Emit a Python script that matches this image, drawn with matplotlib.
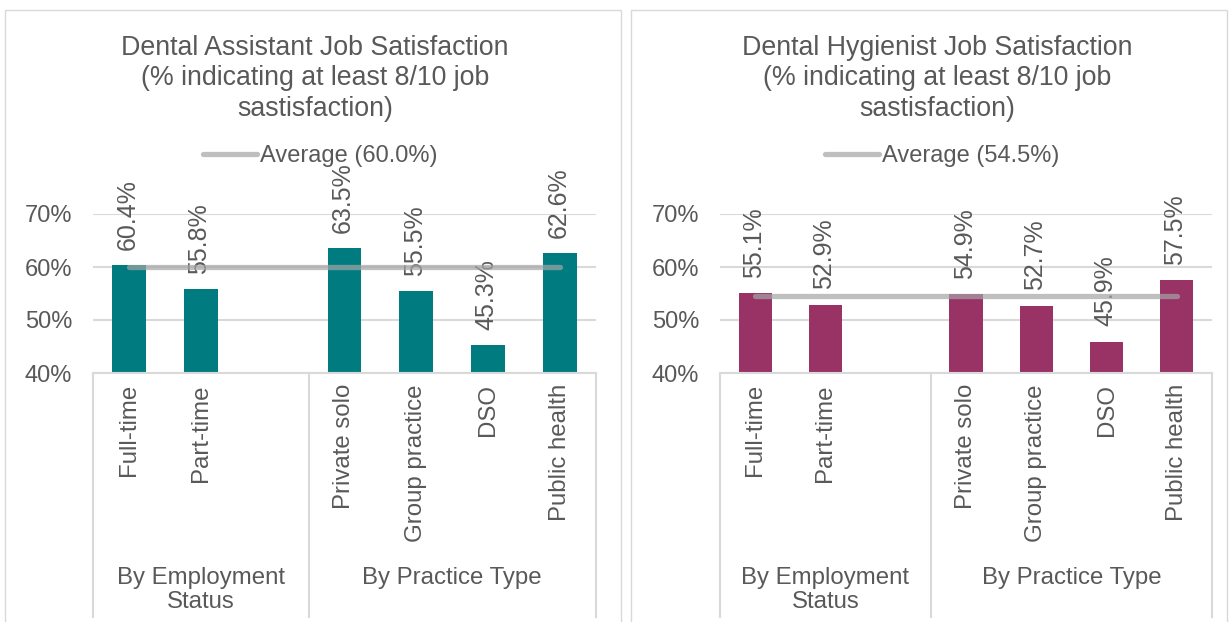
import numpy as np
import matplotlib
matplotlib.use("Agg")
from matplotlib import pyplot as plt
from matplotlib.patches import Rectangle

plt.rcParams['font.family'] = ['Liberation Sans', 'DejaVu Sans']

# data
employment = ["Full-time", "Part-time"]
practice = ["Private solo", "Group practice", "DSO", "Public health"]
group_names = ["By Employment\nStatus", "By Practice Type"]

assistant_vals = [60.4, 55.8, 63.5, 55.5, 45.3, 62.6]
assistant_avg = 60.0
hygienist_vals = [55.1, 52.9, 54.9, 52.7, 45.9, 57.5]
hygienist_avg = 54.5

titles = ["Dental Assistant Job Satisfaction\n(% indicating at least 8/10 job\nsastisfaction)",
          "Dental Hygienist Job Satisfaction\n(% indicating at least 8/10 job\nsastisfaction)"]
bar_colors = ["#007C80", "#993366"]

W, H = 1231, 622
fig = plt.figure(figsize=(W / 100, H / 100), dpi=100)

gray = "#595959"
grid = "#D9D9D9"

# bar positions: one empty slot between the two groups
pos = list(range(len(employment))) + [len(employment) + 1 + i for i in range(len(practice))]
labels = employment + practice
n_slots = len(employment) + 1 + len(practice)

panels = [
    # panel box (l, r), axes (l, r), title / legend centre
    dict(box=(5, 621), ax=(93, 596), tc=315, lc=320),
    dict(box=(631, 1227), ax=(720, 1212), tc=937, lc=942),
]
y_top, y_bot = 214, 373
series = [(assistant_vals, assistant_avg), (hygienist_vals, hygienist_avg)]

for k, p in enumerate(panels):
    vals, avg = series[k]
    bl, br = p["box"]
    fig.patches.append(Rectangle((bl / W, -0.05), (br - bl) / W, 1 - 10 / H + 0.05,
                                 transform=fig.transFigure, fill=False,
                                 edgecolor=grid, lw=1))
    al, ar = p["ax"]
    ax = fig.add_axes([al / W, 1 - y_bot / H, (ar - al) / W, (y_bot - y_top) / H])
    ax.set_xlim(-0.5, n_slots - 0.5)
    ax.set_ylim(40, 70)
    ax.set_yticks([40, 50, 60, 70])
    ax.set_yticklabels([f"{t}%" for t in [40, 50, 60, 70]])
    ax.yaxis.grid(True, color=grid, lw=1.5)
    ax.set_axisbelow(True)
    for s in ["left", "right", "top"]:
        ax.spines[s].set_visible(False)
    ax.spines["bottom"].set_color(grid)
    ax.spines["bottom"].set_linewidth(1.5)
    ax.tick_params(axis="y", length=0, pad=15, labelsize=17, labelcolor=gray)
    ax.tick_params(axis="x", length=0, pad=8, labelsize=17.3, labelcolor=gray)
    ax.set_xticks(pos)
    ax.set_xticklabels(labels, rotation=90, va="top")

    ax.bar(pos, vals, width=0.47, color=bar_colors[k], zorder=2)
    for x, v in zip(pos, vals):
        ax.annotate(f"{v:.1f}%", (x, v), xytext=(-1, 11), textcoords="offset points",
                    rotation=90, ha="center", va="bottom", fontsize=18, color=gray)

    line, = ax.plot([pos[0], pos[-1]], [avg, avg], color="#A5A5A5", alpha=0.7, lw=3.8,
                    solid_capstyle="round", zorder=3, label=f"Average ({avg:.1f}%)")

    # group separators and labels
    ext = -(617 - y_bot) / (y_bot - y_top)
    tr = ax.get_xaxis_transform()
    for xs in [-0.5, len(employment) + 0.5, n_slots - 0.5]:
        ax.plot([xs, xs], [0, ext], color=grid, lw=1.5, transform=tr, clip_on=False)
    gy = -(567 - y_bot) / (y_bot - y_top)
    ax.text((-0.5 + len(employment) + 0.5) / 2, gy, group_names[0], transform=tr,
            ha="center", va="top", fontsize=17.3, color=gray, linespacing=1.12)
    ax.text((len(employment) + 0.5 + n_slots - 0.5) / 2, gy, group_names[1], transform=tr,
            ha="center", va="top", fontsize=17.3, color=gray, linespacing=1.12)

    fig.text(p["tc"] / W, 1 - 35 / H, titles[k], ha="center", va="top",
             fontsize=19.3, color=gray, linespacing=1.22)
    ax.legend(handles=[line], loc="center", bbox_to_anchor=(p["lc"] / W, 1 - 156 / H),
              bbox_transform=fig.transFigure, frameon=False, fontsize=17,
              labelcolor=gray, handlelength=2.3, handletextpad=0.1)

fig.savefig("out.png", dpi=100)
